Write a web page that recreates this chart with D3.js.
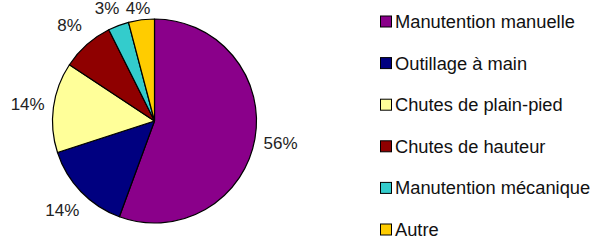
<!DOCTYPE html>
<html><head><meta charset="utf-8">
<script src="https://cdn.jsdelivr.net/npm/d3@7"></script>
<style>html,body{margin:0;padding:0;background:#fff;}svg{display:block;}</style>
</head><body>
<svg id="c" width="594" height="240"></svg>
<script>
const categories = ["Manutention manuelle","Outillage à main","Chutes de plain-pied","Chutes de hauteur","Manutention mécanique","Autre"];
const values = [55.6, 14.4, 14.3, 8.3, 3.3, 4.1];
const labels = ["56%","14%","14%","8%","3%","4%"];
const colors = ["#8A008A","#000080","#FFFF99","#8F0000","#33CCCC","#FFCC00"];

const svg = d3.select("#c");
const cx = 154.5, cy = 121, r = 102, lr = 128;
const font = "'Liberation Sans', Arial, sans-serif";
const fs = 17;

const pie = d3.pie().sort(null).value(d => d)(values);
const arc = d3.arc().innerRadius(0).outerRadius(r);
const larc = d3.arc().innerRadius(lr).outerRadius(lr);

const g = svg.append("g").attr("transform", `translate(${cx},${cy})`);
g.selectAll("path").data(pie).join("path")
  .attr("d", arc).attr("fill", (d,i) => colors[i])
  .attr("stroke", "#000").attr("stroke-width", 1.2).attr("stroke-linejoin","round");

// label positions: centroid, kept inside the top edge, spread apart if crowded
const pos = pie.map((d,i) => {
  const [x,y] = larc.centroid(d);
  return {x, y: Math.max(y, 8 - cy), w: labels[i].length * fs * 0.5};
});
for (let i = pos.length - 2; i >= 0; i--) {
  const a = pos[i], b = pos[i+1];
  if (Math.abs(a.y - b.y) < 14 && a.x < b.x) {
    const gap = (b.x - b.w/2) - (a.x + a.w/2);
    if (gap < 14) a.x -= (14 - gap);
  }
}

g.selectAll("text").data(pie).join("text")
  .attr("x", (d,i) => pos[i].x).attr("y", (d,i) => pos[i].y)
  .attr("text-anchor", "middle").attr("dy", "0.35em")
  .attr("font-family", font).attr("font-size", fs).attr("fill", "#222")
  .text((d,i) => labels[i]);

const ly = d3.scalePoint().domain(categories).range([21.5, 229.5]);
const lg = svg.append("g");
const items = lg.selectAll("g").data(categories).join("g")
  .attr("transform", d => `translate(380,${ly(d)})`);
items.append("rect").attr("x", 0.5).attr("y", -5.5).attr("width", 11).attr("height", 11)
  .attr("fill", (d,i) => colors[i]).attr("stroke", "#000").attr("stroke-width", 1);
items.append("text").attr("x", 15).attr("dy", "0.35em")
  .attr("font-family", font).attr("font-size", 18.3).attr("fill", "#111")
  .text(d => d);
</script>
</body></html>
